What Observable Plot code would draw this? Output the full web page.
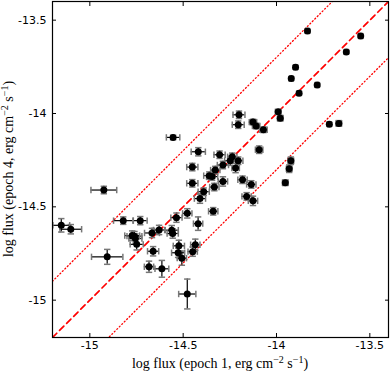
<!DOCTYPE html>
<html><head><meta charset="utf-8">
<script src="https://cdn.jsdelivr.net/npm/d3@7"></script>
<script src="https://cdn.jsdelivr.net/npm/@observablehq/plot@0.6"></script>
<style>body{margin:0;background:#fff;} #chart svg{display:block;}</style>
</head><body><div id="chart"></div>
<script>
// epoch 1 log flux
const xVals = [-13.834,-13.549,-13.626,-13.898,-13.921,-13.782,-13.879,-13.991,-13.980,-13.717,-13.666,
 -14.201,-14.205,-14.126,-14.109,-14.070,-14.554,-14.093,-14.419,-14.305,-14.237,-14.248,-14.205,-14.287,
 -13.923,-14.451,-14.328,-14.219,-14.360,-14.345,-13.932,-14.182,-14.287,-14.451,-14.135,-13.953,-14.333,
 -14.390,-14.160,-14.410,-14.126,-14.339,-14.478,-14.536,-14.420,-14.925,-14.821,-14.730,-15.153,-15.102,
 -14.667,-14.629,-14.773,-14.761,-14.756,-14.749,-14.561,-14.556,-14.523,-14.435,-14.661,-14.527,-14.449,
 -14.507,-14.907,-14.683,-14.614,-14.478];
// epoch 4 log flux
const yVals = [-13.558,-13.585,-13.670,-13.752,-13.813,-13.847,-13.891,-13.991,-14.025,-14.057,-14.053,
 -14.007,-14.060,-14.046,-14.067,-14.087,-14.128,-14.194,-14.205,-14.221,-14.232,-14.253,-14.253,-14.276,
 -14.253,-14.287,-14.303,-14.292,-14.333,-14.338,-14.296,-14.355,-14.364,-14.374,-14.380,-14.371,-14.394,
 -14.419,-14.444,-14.456,-14.468,-14.524,-14.535,-14.558,-14.590,-14.410,-14.574,-14.574,-14.599,-14.620,
 -14.640,-14.624,-14.654,-14.657,-14.670,-14.701,-14.625,-14.643,-14.709,-14.703,-14.738,-14.746,-14.740,
 -14.775,-14.768,-14.821,-14.832,-14.967];
const xErr = [.01,.01,.01,.01,.01,.01,.01,.015,.015,.01,.015,
 .032,.032,.02,.02,.02,.036,.02,.038,.03,.025,.03,.025,.03,
 .015,.03,.025,.02,.03,.03,.015,.025,.025,.03,.025,.015,.025,
 .03,.025,.03,.025,.025,.025,.03,.025,.069,.052,.037,.045,.058,
 .04,.03,.04,.04,.035,.035,.035,.03,.03,.025,.03,.035,.025,
 .025,.084,.025,.037,.046];
const yErr = [.01,.01,.01,.01,.01,.01,.01,.012,.015,.01,.015,
 .02,.02,.015,.015,.015,.012,.02,.022,.02,.02,.025,.02,.02,
 .02,.02,.02,.025,.02,.02,.02,.02,.025,.02,.02,.015,.02,
 .02,.02,.025,.025,.02,.025,.025,.036,.02,.02,.022,.036,.025,
 .025,.025,.025,.025,.025,.03,.025,.025,.03,.03,.025,.025,.025,
 .038,.04,.03,.045,.08];
const xTicks = [-15, -14.5, -14, -13.5];
const yTicks = [-15, -14.5, -14, -13.5];
const lineEnds = [-15.2, -13.4];
const factor2 = Math.log10(2); // factor-of-two bands

const pts = xVals.map((x, i) => ({x, y: yVals[i], xe: xErr[i], ye: yErr[i]}));
const diag = lineEnds.map(v => ({x: v, y: v}));
const upper = lineEnds.map(v => ({x: v, y: v + factor2}));
const lower = lineEnds.map(v => ({x: v, y: v - factor2}));

const hcap = {draw(ctx, size){ const r = Math.sqrt(size/Math.PI); ctx.moveTo(-r,0); ctx.lineTo(r,0); }};
const vcap = {draw(ctx, size){ const r = Math.sqrt(size/Math.PI); ctx.moveTo(0,-r); ctx.lineTo(0,r); }};

const fmt = d => String(d).replace("\u2212","-");
const chart = Plot.plot({
  width: 390, height: 372,
  marginLeft: 52, marginRight: 2, marginTop: 1, marginBottom: 35,
  style: {fontFamily: "DejaVu Sans", fontSize: "11px", color: "#000"},
  x: {domain: [-15.2, -13.4]},
  y: {domain: [-15.2, -13.4]},
  marks: [
    Plot.line(upper, {x: "x", y: "y", stroke: "#ff0000", strokeWidth: 1.3, strokeDasharray: "1,2.5", clip: true}),
    Plot.line(lower, {x: "x", y: "y", stroke: "#ff0000", strokeWidth: 1.3, strokeDasharray: "1,2.5", clip: true}),
    Plot.line(diag, {x: "x", y: "y", stroke: "#ff0000", strokeWidth: 1.7, strokeDasharray: "6,4", clip: true}),
    Plot.ruleY(pts, {y: "y", x1: d => d.x - d.xe, x2: d => d.x + d.xe, stroke: "#000", strokeWidth: 1.2, clip: true}),
    Plot.ruleX(pts, {x: "x", y1: d => d.y - d.ye, y2: d => d.y + d.ye, stroke: "#000", strokeWidth: 1.2, clip: true}),
    Plot.dot(pts, {x: d => d.x - d.xe, y: "y", symbol: vcap, r: 3.2, stroke: "#777", strokeWidth: 1.5, clip: true}),
    Plot.dot(pts, {x: d => d.x + d.xe, y: "y", symbol: vcap, r: 3.2, stroke: "#777", strokeWidth: 1.5, clip: true}),
    Plot.dot(pts, {x: "x", y: d => d.y - d.ye, symbol: hcap, r: 3.2, stroke: "#777", strokeWidth: 1.5, clip: true}),
    Plot.dot(pts, {x: "x", y: d => d.y + d.ye, symbol: hcap, r: 3.2, stroke: "#777", strokeWidth: 1.5, clip: true}),
    Plot.dot(pts, {x: "x", y: "y", r: 3.5, fill: "#000", stroke: "none", clip: true}),
    Plot.axisX(xTicks, {anchor: "bottom", tickSize: -4, tickPadding: 8, tickFormat: fmt, label: null, fontSize: 11}),
    Plot.axisX(xTicks, {anchor: "top", tickSize: -4, tickFormat: () => "", label: null}),
    Plot.axisY(yTicks, {anchor: "left", tickSize: -4, tickPadding: 10, tickFormat: fmt, label: null, fontSize: 11}),
    Plot.axisY(yTicks, {anchor: "right", tickSize: -4, tickFormat: () => "", label: null}),
    Plot.frame({stroke: "#000", strokeWidth: 1.2})
  ]
});
document.getElementById("chart").appendChild(chart);

const svg = d3.select(chart);
const labFont = "'Liberation Serif', serif";
function addLabel(g, pre, ep) {
  g.append("tspan").text(pre + ep + ", erg cm");
  g.append("tspan").attr("dy", -5).attr("font-size", "10px").text("\u22122");
  g.append("tspan").attr("dy", 5).text(" s");
  g.append("tspan").attr("dy", -5).attr("font-size", "10px").text("\u22121");
  g.append("tspan").attr("dy", 5).text(")");
}
const xl = svg.append("text").attr("x", 220).attr("y", 368).attr("text-anchor", "middle")
  .attr("font-family", labFont).attr("font-size", "14px").attr("fill", "#000");
addLabel(xl, "log flux (epoch ", "1");
const yl = svg.append("text").attr("transform", "translate(13,169) rotate(-90)").attr("text-anchor", "middle")
  .attr("font-family", labFont).attr("font-size", "14px").attr("fill", "#000");
addLabel(yl, "log flux (epoch ", "4");
</script></body></html>
